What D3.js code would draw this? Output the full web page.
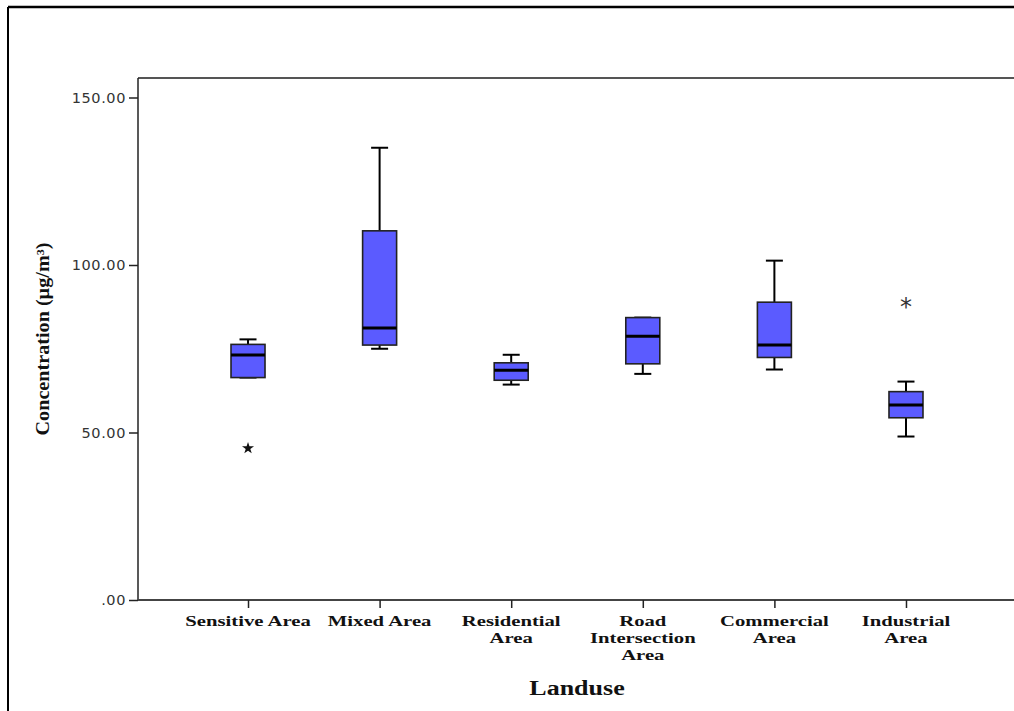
<!DOCTYPE html>
<html><head><meta charset="utf-8">
<script src="https://cdn.jsdelivr.net/npm/d3@7"></script>
<style>body{margin:0;background:#fff}</style>
</head><body>
<svg id="c" width="1014" height="711"></svg>
<script>
const categories = [["Sensitive Area"],["Mixed Area"],["Residential","Area"],["Road","Intersection","Area"],["Commercial","Area"],["Industrial","Area"]];
const whiskerLow  = [66.4, 75.0, 64.3, 67.5, 68.8, 48.8];
const q1          = [66.4, 76.1, 65.6, 70.5, 72.4, 54.4];
const median      = [73.1, 81.2, 68.6, 78.7, 76.1, 58.2];
const q3          = [76.3, 110.2, 70.8, 84.3, 88.9, 62.2];
const whiskerHigh = [77.8, 135.0, 73.2, 84.3, 101.3, 65.2];
const outliers = [{cat:0, value:45.3, kind:"filled"},{cat:5, value:88.4, kind:"open"}];
const yTicks = [0, 50, 100, 150];

const svg = d3.select("#c");
const serif = "'Liberation Serif','Times New Roman',serif";
// outer frame
svg.append("line").attr("x1",8).attr("x2",8).attr("y1",7).attr("y2",711).attr("stroke","#000").attr("stroke-width",2);
svg.append("line").attr("x1",8).attr("x2",1014).attr("y1",7).attr("y2",7).attr("stroke","#000").attr("stroke-width",2.5);

const L=138, R=1016, T=78, B=600;
const y = d3.scaleLinear().domain([0,150]).range([B, 97.5]);
const x = d3.scalePoint().domain(d3.range(categories.length)).range([L,R]).padding(0.836);

// plot frame lines
svg.append("line").attr("x1",L).attr("x2",1014).attr("y1",T).attr("y2",T).attr("stroke","#555").attr("stroke-width",2);
svg.append("line").attr("x1",L).attr("x2",L).attr("y1",T).attr("y2",B).attr("stroke","#222").attr("stroke-width",1.5);
svg.append("line").attr("x1",L).attr("x2",1014).attr("y1",B).attr("y2",B).attr("stroke","#444").attr("stroke-width",2);

// y axis
const yAxis = svg.append("g").attr("transform",`translate(${L},0)`)
  .call(d3.axisLeft(y).tickValues(yTicks).tickSize(9).tickFormat(d => d===0 ? ".00" : d.toFixed(2)));
yAxis.select(".domain").remove();
yAxis.selectAll(".tick line").attr("stroke","#222").attr("stroke-width",1.5);
yAxis.selectAll(".tick text").attr("font-family","'DejaVu Sans', Verdana, sans-serif").attr("font-size",14.5)
  .attr("letter-spacing",0.6).attr("fill","#333").attr("x",-12);

// x axis ticks
const xAxis = svg.append("g").attr("transform",`translate(0,${B})`)
  .call(d3.axisBottom(x).tickSize(8).tickFormat(""));
xAxis.select(".domain").remove();
xAxis.selectAll(".tick line").attr("stroke","#222").attr("stroke-width",1.5);

// category labels
categories.forEach((lines,i)=>{
  const t = svg.append("text").attr("transform",`translate(${x(i)},626) scale(1.38,1)`).attr("text-anchor","middle")
    .attr("font-family",serif).attr("font-weight","bold").attr("font-size",15).attr("fill","#111");
  lines.forEach((s,j)=> t.append("tspan").attr("x",0).attr("dy", j===0?0:17).text(s));
});

// axis titles
svg.append("text").attr("transform","translate(577,695) scale(1.3,1)").attr("text-anchor","middle")
  .attr("font-family",serif).attr("font-weight","bold").attr("font-size",20).attr("fill","#111").text("Landuse");
svg.append("text").attr("transform","translate(49,339) rotate(-90) scale(1.12,1)").attr("text-anchor","middle")
  .attr("font-family",serif).attr("font-weight","bold").attr("font-size",18).attr("fill","#111")
  .text("Concentration (µg/m³)");

// boxes
const bw = 34, cw = 17;
const g = svg.append("g");
categories.forEach((c,i)=>{
  const cx = x(i);
  g.append("line").attr("x1",cx).attr("x2",cx).attr("y1",y(whiskerHigh[i])).attr("y2",y(q3[i])).attr("stroke","#000").attr("stroke-width",2);
  g.append("line").attr("x1",cx).attr("x2",cx).attr("y1",y(q1[i])).attr("y2",y(whiskerLow[i])).attr("stroke","#000").attr("stroke-width",2);
  g.append("line").attr("x1",cx-cw/2).attr("x2",cx+cw/2).attr("y1",y(whiskerHigh[i])).attr("y2",y(whiskerHigh[i])).attr("stroke","#000").attr("stroke-width",2);
  g.append("line").attr("x1",cx-cw/2).attr("x2",cx+cw/2).attr("y1",y(whiskerLow[i])).attr("y2",y(whiskerLow[i])).attr("stroke","#000").attr("stroke-width",2);
  g.append("rect").attr("x",cx-bw/2).attr("width",bw).attr("y",y(q3[i])).attr("height",y(q1[i])-y(q3[i]))
    .attr("fill","#5b5bff").attr("stroke","#222").attr("stroke-width",1.6);
  g.append("line").attr("x1",cx-bw/2).attr("x2",cx+bw/2).attr("y1",y(median[i])).attr("y2",y(median[i])).attr("stroke","#000").attr("stroke-width",3);
});

// outliers
outliers.forEach(o=>{
  if(o.kind==="filled"){
    g.append("path").attr("d",d3.symbol(d3.symbolStar,45)()).attr("transform",`translate(${x(o.cat)},${y(o.value)})`).attr("fill","#111");
  } else {
    g.append("text").attr("x",x(o.cat)).attr("y",y(o.value)+11).attr("text-anchor","middle")
      .attr("font-family","'DejaVu Sans',sans-serif").attr("font-size",24).attr("fill","#333").text("*");
  }
});
</script>
</body></html>
